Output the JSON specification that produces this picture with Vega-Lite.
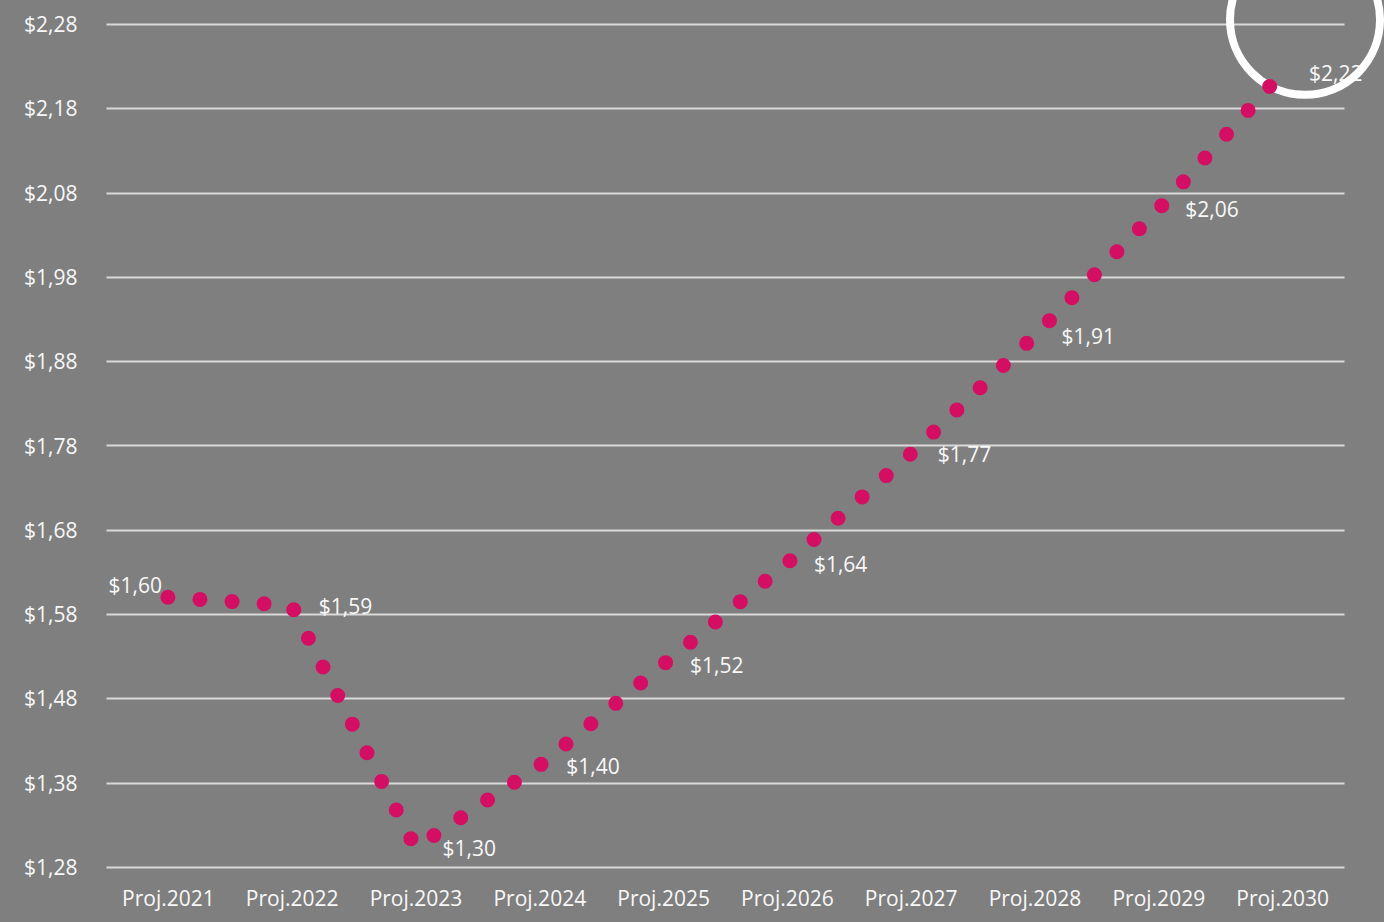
{
  "$schema": "https://vega.github.io/schema/vega-lite/v6.json",
  "width": 1238,
  "height": 843,
  "autosize": "none",
  "padding": {"left": 106, "top": 24, "right": 40, "bottom": 55},
  "background": "#7f7f7f",
  "config": {
    "view": {"stroke": null},
    "font": "Open Sans",
    "locale": {
      "number": {"decimal": ",", "thousands": ".", "grouping": [3], "currency": ["$", ""]}
    }
  },
  "datasets": {
    "series": [
      {"year": 2021, "value": 1.60},
      {"year": 2022, "value": 1.59},
      {"year": 2023, "value": 1.303},
      {"year": 2024, "value": 1.40},
      {"year": 2025, "value": 1.52},
      {"year": 2026, "value": 1.64},
      {"year": 2027, "value": 1.77},
      {"year": 2028, "value": 1.91},
      {"year": 2029, "value": 2.06},
      {"year": 2030, "value": 2.222}
    ],
    "highlight": [{"year": 2030.185, "value": 2.285}]
  },
  "encoding": {
    "x": {
      "field": "year",
      "type": "quantitative",
      "scale": {"domain": [2020.5, 2030.5], "nice": false, "zero": false},
      "axis": {
        "values": [2021, 2022, 2023, 2024, 2025, 2026, 2027, 2028, 2029, 2030],
        "labelExpr": "'Proj.' + datum.value",
        "grid": false,
        "domain": false,
        "ticks": false,
        "title": null,
        "labelFont": "Open Sans",
        "labelFontSize": 21,
        "labelColor": "#f8f8f8",
        "labelPadding": 21,
        "labelFlush": false,
        "labelOverlap": false
      }
    },
    "y": {
      "field": "value",
      "type": "quantitative",
      "scale": {"domain": [1.28, 2.28], "nice": false, "zero": false},
      "axis": {
        "values": [1.28, 1.38, 1.48, 1.58, 1.68, 1.78, 1.88, 1.98, 2.08, 2.18, 2.28],
        "labelExpr": "'$' + replace(format(datum.value, '.2f'), '.', ',')",
        "grid": true,
        "gridColor": "#d9d9d9",
        "gridWidth": 2,
        "domain": false,
        "ticks": false,
        "title": null,
        "labelFont": "Open Sans",
        "labelFontSize": 21,
        "labelColor": "#f8f8f8",
        "labelPadding": 29,
        "labelOffset": 1.5,
        "labelFlush": false,
        "labelOverlap": false
      }
    }
  },
  "layer": [
    {
      "data": {"name": "series"},
      "transform": [{"filter": "datum.year == 2021"}],
      "mark": {"type": "text", "align": "right", "baseline": "middle", "dx": -6, "dy": -10, "fontSize": 21, "font": "Open Sans", "color": "#f8f8f8"},
      "encoding": {"text": {"field": "value", "type": "quantitative", "format": "$.2f"}}
    },
    {
      "data": {"name": "series"},
      "transform": [{"filter": "datum.year > 2021"}],
      "mark": {"type": "text", "align": "left", "baseline": "middle", "dx": 27, "dy": 2, "fontSize": 21, "font": "Open Sans", "color": "#f8f8f8"},
      "encoding": {"text": {"field": "value", "type": "quantitative", "format": "$.2f"}}
    },
    {
      "data": {"name": "highlight"},
      "mark": {"type": "point", "shape": "circle", "filled": false, "size": 22500, "stroke": "#ffffff", "strokeWidth": 8, "opacity": 1}
    },
    {
      "data": {"name": "series"},
      "mark": {
        "type": "line",
        "color": "#d40e63",
        "strokeWidth": 15,
        "strokeCap": "round",
        "strokeDash": [0, 32.15]
      }
    }
  ]
}
